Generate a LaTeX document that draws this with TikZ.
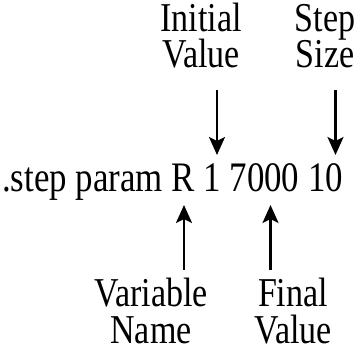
\documentclass[tikz,border=0pt]{standalone}
\usepackage{fontspec}
\setmainfont{Liberation Serif}[FakeStretch=0.83]
\usetikzlibrary{arrows.meta}
\begin{document}
\begin{tikzpicture}[x=1pt,y=1pt,
  cmd/.style={inner sep=0pt,anchor=base west,font=\fontsize{42}{42}\selectfont},
  lbl/.style={inner sep=0pt,anchor=base,align=center,font=\fontsize{41}{36}\selectfont},
  arr/.style={line width=2.6pt,-{Stealth[length=18pt,width=16pt,inset=4pt]}}]
\useasboundingbox (0,0) rectangle (359,362);
% command line
\node[cmd] (cmdline) at (2,170) {.step param R 1 7000 10};
% labels above and below (anchored on the baseline of their last line)
\node[lbl] (init) at (201,294) {Initial\\Value};
\node[lbl] (stepsz) at (325,294) {Step\\Size};
\node[lbl] (varname) at (151,19) {Variable\\Name};
\node[lbl] (final) at (293,19) {Final\\Value};
% arrow tips on the command line
\coordinate (tInit) at (217,207);
\coordinate (tStep) at (335.5,207);
\coordinate (tVar) at (184,157);
\coordinate (tFinal) at (270.5,157);
% arrows
\draw[arr] (tInit |- 0,272) -- (tInit);
\draw[arr] (tStep |- 0,272) -- (tStep);
\draw[arr] (tVar |- 0,92) -- (tVar);
\draw[arr] (tFinal |- 0,92) -- (tFinal);
\end{tikzpicture}
\end{document}
